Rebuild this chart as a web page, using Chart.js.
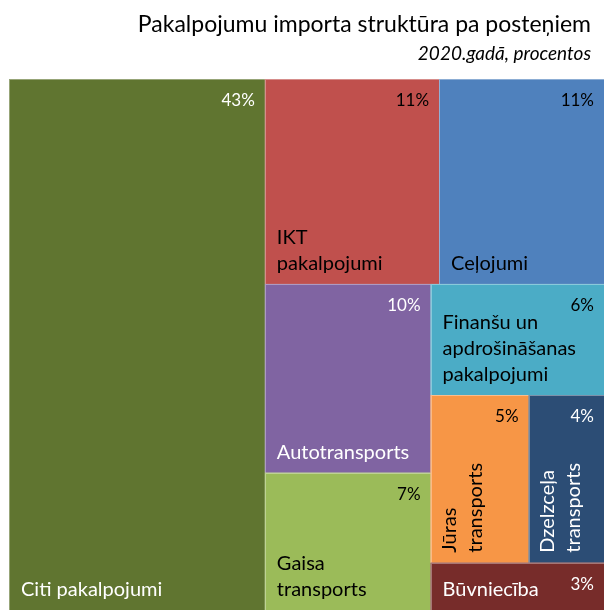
<!DOCTYPE html>
<html>
<head>
<meta charset="utf-8">
<script src="https://cdn.jsdelivr.net/npm/chart.js@4.4.1/dist/chart.umd.min.js"></script>
<style>
  html, body { margin: 0; padding: 0; background: #fff; }
  #wrap { width: 604px; height: 610px; }
</style>
</head>
<body>
<div id="wrap"><canvas id="treemap"></canvas></div>
<script>
// Service import structure by item, 2020, percent
const categories = [
  ["Citi pakalpojumi"],
  ["IKT", "pakalpojumi"],
  ["Ceļojumi"],
  ["Autotransports"],
  ["Gaisa", "transports"],
  ["Finanšu un", "apdrošināšanas", "pakalpojumi"],
  ["Jūras", "transports"],
  ["Dzelzceļa", "transports"],
  ["Būvniecība"],
];
const shares = [43.0, 11.3, 10.7, 9.9, 7.2, 6.1, 5.2, 4.0, 2.6];

const titleText = "Pakalpojumu importa struktūra pa posteņiem";
const subtitleText = "2020.gadā, procentos";

const colors = ["#607530", "#c0504d", "#4f81bd", "#8064a2", "#9bbb59", "#4bacc6", "#f79646", "#2c4d75", "#772c2a"];
const textColors = ["#fff", "#000", "#000", "#fff", "#000", "#000", "#000", "#fff", "#fff"];

const FONT = "Lato, 'Open Sans', sans-serif";

// squarified layout (d3 style), ratio tuned a little above 1
function squarify(values, x0, y0, x1, y1, ratio) {
  const rects = [];
  let total = values.reduce((a, b) => a + b, 0);
  let i0 = 0;
  while (i0 < values.length) {
    const dx = x1 - x0, dy = y1 - y0;
    const alpha = Math.max(dy / dx, dx / dy) / (total * ratio);
    let sum = values[i0], minV = sum, maxV = sum;
    let beta = sum * sum * alpha;
    let best = Math.max(maxV / beta, beta / minV);
    let i1 = i0 + 1;
    for (; i1 < values.length; i1++) {
      const v = values[i1];
      const s = sum + v;
      const mn = Math.min(minV, v), mx = Math.max(maxV, v);
      beta = s * s * alpha;
      const r = Math.max(mx / beta, beta / mn);
      if (r > best) break;
      sum = s; minV = mn; maxV = mx; best = r;
    }
    if (dx < dy) {
      // row across the top
      const h = dy * sum / total;
      let x = x0;
      for (let i = i0; i < i1; i++) {
        const w = dx * values[i] / sum;
        rects.push({ x0: x, y0: y0, x1: x + w, y1: y0 + h });
        x += w;
      }
      y0 += h;
    } else {
      // column on the left
      const w = dx * sum / total;
      let y = y0;
      for (let i = i0; i < i1; i++) {
        const h = dy * values[i] / sum;
        rects.push({ x0: x0, y0: y, x1: x0 + w, y1: y + h });
        y += h;
      }
      x0 += w;
    }
    total -= sum;
    i0 = i1;
  }
  return rects;
}

const treemapPlugin = {
  id: "treemapCells",
  afterDatasetsDraw(chart) {
    const ctx = chart.ctx;
    const xs = chart.scales.x, ys = chart.scales.y;
    const left = xs.getPixelForValue(0), right = xs.getPixelForValue(100);
    const top = ys.getPixelForValue(100), bottom = ys.getPixelForValue(0);

    const order = shares.map((v, i) => i).sort((a, b) => shares[b] - shares[a]);
    const rects = squarify(order.map((i) => shares[i]), left, top, right, bottom, 1.15);

    ctx.save();
    rects.forEach((r, k) => {
      const i = order[k];
      ctx.fillStyle = colors[i];
      ctx.fillRect(r.x0, r.y0, r.x1 - r.x0, r.y1 - r.y0);
      ctx.strokeStyle = "rgba(255,255,255,0.35)";
      ctx.lineWidth = 1;
      ctx.strokeRect(Math.round(r.x0) + 0.5, Math.round(r.y0) + 0.5, Math.round(r.x1 - r.x0), Math.round(r.y1 - r.y0));
    });

    rects.forEach((r, k) => {
      const i = order[k];
      ctx.fillStyle = textColors[i];
      ctx.textBaseline = "alphabetic";

      // value, top right
      ctx.font = "17px " + FONT;
      ctx.textAlign = "right";
      ctx.fillText(Math.round(shares[i]) + "%", r.x1 - 10, r.y0 + 27);

      // name, bottom left (rotated in narrow cells)
      ctx.font = "20px " + FONT;
      ctx.textAlign = "left";
      const lines = categories[i];
      const w = r.x1 - r.x0;
      if (w < 110) {
        ctx.save();
        ctx.translate(r.x0, r.y1);
        ctx.rotate(-Math.PI / 2);
        lines.forEach((t, j) => ctx.fillText(t, 10, 25 + j * 26));
        ctx.restore();
      } else {
        const n = lines.length;
        lines.forEach((t, j) => ctx.fillText(t, r.x0 + 12, r.y1 - 14 - (n - 1 - j) * 26));
      }
    });
    ctx.restore();
  },
  afterDraw(chart) {
    const ctx = chart.ctx;
    ctx.save();
    ctx.fillStyle = "#000";
    ctx.textAlign = "right";
    ctx.textBaseline = "alphabetic";
    ctx.font = "23px " + FONT;
    ctx.fillText(titleText, chart.width - 13, 32);
    ctx.font = "italic 19px " + FONT;
    ctx.fillText(subtitleText, chart.width - 13, 60);
    ctx.restore();
  },
};

const canvas = document.getElementById("treemap");
new Chart(canvas, {
  type: "scatter",
  data: { datasets: [] },
  options: {
    responsive: true,
    maintainAspectRatio: false,
    animation: false,
    layout: { padding: { left: 9, top: 79, right: 0, bottom: 0 } },
    scales: {
      x: { display: false, min: 0, max: 100 },
      y: { display: false, min: 0, max: 100 },
    },
    plugins: {
      legend: { display: false },
      tooltip: { enabled: false },
    },
  },
  plugins: [treemapPlugin],
});
</script>
</body>
</html>
